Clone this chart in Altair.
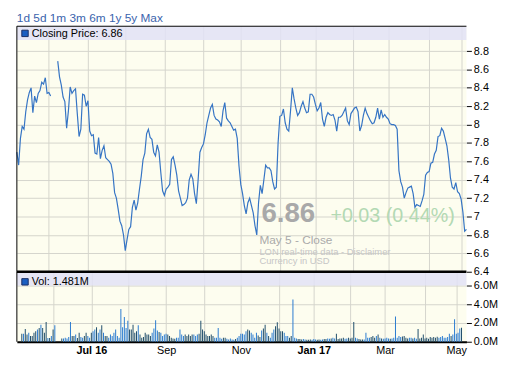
import altair as alt
import pandas as pd
import numpy as np

FONT = "Liberation Sans"

range_buttons = ["1d 5d 1m 3m 6m 1y 5y Max"]
price_title = ["Closing Price: 6.86"]
volume_title = ["Vol: 1.481M"]
last_price = ["6.86"]
change_text = ["+0.03 (0.44%)"]
close_note = ["May 5 - Close"]
source_note = ["LON real-time data - Disclaimer"]
currency_note = ["Currency in USD"]

uk_holidays = ["2016-05-30", "2016-08-29", "2016-12-26", "2016-12-27",
               "2017-01-02", "2017-04-14", "2017-04-17", "2017-05-01"]

close = [
    7.70, 7.56, 7.85, 7.98, 7.95, 8.14, 8.27, 8.35, 8.40, 8.13,
    8.31, 8.24, 8.34, 8.37, 8.46, 8.44, 8.51, 8.34, 8.35, 8.31,
    None, None, None, 8.69, 8.52, 8.43, 8.30, 8.25, 7.96, 8.15,
    8.41, 8.34, 8.37, 8.39, 8.12, 7.87, 7.95, 8.33, 8.32, 8.20,
    8.26, 7.93, 7.88, 7.89, 7.69, 7.68, 7.86, 7.63, 7.72, 7.77,
    7.64, 7.62, 7.60, 7.57, 7.47, 7.26, 7.20, 7.08, 6.95, 6.90,
    6.80, 6.63, 6.75, 6.86, 6.89, 7.10, 7.18, 7.07, 7.15, 7.30,
    7.44, 7.62, 7.69, 7.90, 7.95, 7.86, 7.84, 7.70, 7.66, 7.78,
    7.70, 7.48, 7.28, 7.23, 7.30, 7.32, 7.35, 7.62, 7.65, 7.56,
    7.45, 7.28, 7.20, 7.12, 7.13, 7.15, 7.20, 7.40, 7.46, 7.41,
    7.25, 7.14, 7.40, 7.70, 7.75, 7.79, 7.89, 8.02, 8.10, 8.18,
    8.22, 8.10, 8.06, 8.05, 8.03, 7.98, 8.15, 8.24, 8.07, 8.04,
    8.02, 7.98, 7.94, 7.95, 7.85, 7.55, 7.35, 7.25, 7.12, 7.03,
    7.15, 7.20, 7.12, 7.04, 6.90, 6.80, 7.15, 7.34, 7.25, 7.40,
    7.56, 7.53, 7.53, 7.50, 7.38, 7.30, 7.32, 7.80, 8.09, 8.10,
    8.17, 8.02, 7.95, 7.93, 8.15, 8.40, 8.28, 8.18, 8.10, 8.13,
    8.20, 8.25, 8.18, 8.13, 8.14, 8.33, 8.33, 8.30, 8.22, 8.15,
    8.18, 8.24, 8.06, 7.98, 8.08, 8.13, 8.11, 8.10, 8.11, 8.05,
    7.93, 8.08, 8.08, 8.10, 8.14, 8.18, 8.04, 8.00, 8.12, 8.15,
    8.18, 8.19, 8.14, 7.93, 7.99, 8.10, 8.18, 8.12, 8.08, 8.04,
    8.01, 8.02, 8.08, 8.18, 8.06, 8.16, 8.08, 8.11, 8.08, 8.06,
    8.01, 8.00, 8.00, 7.99, 7.95, 7.50, 7.38, 7.32, 7.20, 7.26,
    7.31, 7.32, 7.33, 7.25, 7.10, 7.13, 7.12, 7.11, 7.17, 7.24,
    7.45, 7.48, 7.49, 7.58, 7.59, 7.68, 7.72, 7.87, 7.88, 7.96,
    7.93, 7.85, 7.77, 7.62, 7.42, 7.32, 7.30, 7.37, 7.27, 7.25,
    7.19, 7.05, 6.84, 6.86,
]

volume_m = [
    0.84, 0.84, 1.37, 0.77, 0.95, 0.60, 0.60, 0.95, 1.12, 1.30,
    1.47, 1.82, 1.47, 0.95, 2.10, 0.40, 0.40, 0.60, 1.30, 1.75,
    None, None, None, 0.35, 0.35, 0.42, 0.35, 0.50, 2.10, 0.60,
    0.60, 0.77, 0.40, 0.95, 0.50, 0.42, 0.60, 0.95, 0.60, 0.42,
    0.95, 1.12, 1.30, 1.54, 0.95, 1.30, 1.75, 0.95, 0.60, 0.60,
    0.42, 0.77, 0.60, 0.95, 1.30, 0.60, 0.42, 3.50, 1.54, 2.63,
    1.47, 2.25, 1.30, 1.30, 1.82, 0.95, 1.12, 1.75, 0.77, 0.42,
    0.50, 0.95, 0.77, 0.77, 0.60, 0.95, 1.40, 2.28, 1.20, 1.05,
    0.95, 0.60, 0.77, 0.84, 0.77, 0.60, 0.42, 0.35, 0.32, 0.42,
    0.42, 1.30, 0.77, 0.60, 0.77, 0.60, 0.77, 0.60, 0.77, 0.77,
    0.60, 0.77, 0.84, 2.25, 1.30, 1.12, 0.77, 0.60, 0.60, 0.77,
    0.60, 0.42, 0.42, 1.47, 0.42, 0.32, 0.42, 0.42, 0.32, 0.25,
    0.35, 0.25, 0.20, 0.30, 0.42, 0.60, 0.84, 0.84, 0.77, 1.12,
    1.30, 1.20, 0.95, 0.77, 0.42, 0.95, 0.67, 0.50, 1.20, 1.40,
    1.82, 0.95, 0.60, 0.42, 0.95, 1.30, 1.65, 2.07, 1.40, 1.12,
    1.12, 0.95, 0.60, 0.60, 0.42, 0.60, 4.50, 0.42, 0.35, 0.30,
    0.28, 0.25, 0.28, 0.25, 0.20, 0.22, 0.25, 0.20, 0.28, 0.25,
    0.22, 0.25, 0.20, 0.25, 0.28, 0.30, 0.35, 0.32, 0.35, 0.42,
    0.35, 0.84, 0.30, 0.35, 0.35, 0.42, 0.32, 0.35, 0.42, 0.35,
    0.42, 2.10, 0.42, 0.35, 0.28, 0.25, 0.25, 0.25, 0.95, 0.42,
    0.42, 0.50, 0.60, 0.42, 0.60, 0.77, 0.42, 0.35, 0.32, 0.35,
    0.42, 0.35, 0.32, 0.35, 0.42, 2.70, 0.42, 0.60, 0.50, 0.56,
    0.60, 0.42, 0.35, 0.42, 0.42, 0.35, 0.42, 0.32, 1.37, 0.35,
    0.42, 0.77, 0.35, 0.42, 0.32, 0.50, 0.42, 0.50, 0.42, 0.53,
    0.42, 0.50, 0.60, 0.42, 0.42, 0.50, 0.84, 0.60, 0.77, 2.40,
    0.84, 0.95, 1.40, 1.481,
]

price_ticks = [6.4, 6.6, 6.8, 7.0, 7.2, 7.4, 7.6, 7.8, 8.0, 8.2, 8.4, 8.6, 8.8]
volume_ticks = [0, 2, 4, 6]

# ---- table built from the lists ----
all_days = pd.bdate_range("2016-05-05", "2017-05-05")
trading_days = [d for d in all_days if d.strftime("%Y-%m-%d") not in uk_holidays]
n = len(close)
dates = pd.to_datetime(trading_days[-n:])
df = pd.DataFrame({"day": np.arange(n), "date": dates,
                   "close": pd.array(close, dtype="Float64").astype(float),
                   "volume": pd.array(volume_m, dtype="Float64").astype(float)})
prev = df["close"].ffill().shift(1)
df["move"] = np.where(df["close"] < prev, "down", "up")
df["date"] = df["date"].dt.strftime("%Y-%m-%d")

d = pd.to_datetime(df["date"])
is_start = (d.dt.day <= 4) & (d.dt.month != d.shift(1).dt.month)
starts = df[is_start]
tick_days = [int(v) for v in starts["day"]]
parts = []
bold_days = []
for day, ds in zip(starts["day"], pd.to_datetime(starts["date"])):
    if ds.month % 2 == 1:
        if ds.month in (1, 7):
            lab = ds.strftime("%b %y")
            bold_days.append(int(day))
        else:
            lab = ds.strftime("%b")
        parts.append(f"datum.value == {int(day)} ? '{lab}'")
label_expr = " : ".join(parts) + " : ''"
bold_test = " || ".join(f"datum.value == {b}" for b in bold_days) or "false"

W = 456
H1 = 249
H2 = 71
GRID = "#d4d4cc"
BAND = "#e2e2f6"
LINE = "#3574c4"

x_scale = alt.Scale(domain=[0, n - 1], nice=False, zero=False)


def text_layer(txt, x, y, size, color, weight="normal"):
    return alt.Chart(pd.DataFrame({"t": txt})).mark_text(
        align="left", baseline="alphabetic", font=FONT, fontSize=size,
        color=color, fontWeight=weight
    ).encode(x=alt.value(x), y=alt.value(y), text="t:N")


def box(x, x2, y, y2, fill, **kw):
    return alt.Chart(pd.DataFrame({"k": [0]})).mark_rect(fill=fill, **kw).encode(
        x=alt.value(x), x2=alt.value(x2), y=alt.value(y), y2=alt.value(y2))


def rule(x, x2, y, y2, width):
    return alt.Chart(pd.DataFrame({"k": [0]})).mark_rule(color="black", strokeWidth=width).encode(
        x=alt.value(x), x2=alt.value(x2), y=alt.value(y), y2=alt.value(y2))


price_line = alt.Chart(df).mark_line(
    color=LINE, strokeWidth=1.2, invalid="break-paths-show-domains"
).encode(
    x=alt.X("day:Q", scale=x_scale,
            axis=alt.Axis(values=tick_days, grid=True, gridColor=GRID, labels=False,
                          ticks=False, domain=False, title=None)),
    y=alt.Y("close:Q", scale=alt.Scale(domain=[6.4, 9.07], nice=False, zero=False),
            axis=alt.Axis(orient="right", values=price_ticks, format=".1~f", title=None,
                          grid=True, gridColor=GRID, domain=False, tickColor="black",
                          tickSize=5, labelPadding=2)),
)

price = alt.layer(
    box(0, W, 0, 14, BAND, opacity=0.85),
    price_line,
    text_layer(last_price, 248, 199, 28, "#a9a9a9", "bold"),
    text_layer(change_text, 318, 199, 20, "#b3d9b3"),
    text_layer(close_note, 246, 221, 12, "#aaaaaa"),
    text_layer(source_note, 246, 232, 9.5, "#c6c6c6"),
    text_layer(currency_note, 246, 241.5, 9.5, "#c6c6c6"),
    box(5, 11.5, 4, 10.5, "#1b5fc2", stroke="#1a2f66", strokeWidth=1),
    text_layer(price_title, 15, 11, 11, "black"),
    text_layer(range_buttons, 0, -4, 12, "#3b64ad"),
    rule(0, W, 0, 0, 1),
    rule(0, 0, 0, H1, 1),
).properties(width=W, height=H1)

volume_bars = alt.Chart(df).mark_bar(size=1).encode(
    x=alt.X("day:Q", scale=x_scale,
            axis=alt.Axis(values=tick_days, grid=True, gridColor=GRID, labelExpr=label_expr,
                          labelFontWeight={"condition": {"test": bold_test, "value": "bold"},
                                           "value": "normal"},
                          ticks=False, tickSize=0, labelPadding=3, domainColor="black",
                          domainWidth=2, title=None, labelOverlap=False)),
    y=alt.Y("volume:Q", scale=alt.Scale(domain=[0, 7.47], nice=False, zero=True),
            axis=alt.Axis(orient="right", values=volume_ticks,
                          labelExpr="format(datum.value, '.1f') + 'M'", title=None,
                          grid=True, gridColor=GRID, domain=False, tickColor="black",
                          tickSize=5, labelPadding=2)),
    color=alt.Color("move:N", scale=alt.Scale(domain=["up", "down"],
                                              range=["#1f4d6b", "#2a7bd0"]), legend=None),
)

volume = alt.layer(
    box(0, W, 1, 14, BAND, opacity=0.85),
    volume_bars,
    box(5, 11.5, 7, 13.5, "#1b5fc2", stroke="#1a2f66", strokeWidth=1),
    text_layer(volume_title, 15, 13, 11, "black"),
    rule(0, W, 0, 0, 2.5),
    rule(0, 0, 0, H2, 1),
).properties(width=W, height=H2)

chart = alt.vconcat(price, volume, spacing=0, bounds="flush").resolve_scale(
    y="independent"
).properties(
    padding={"left": 6, "top": 2, "right": 0, "bottom": 0},
    background="white",
).configure_view(fill="#fdfdef", stroke=None).configure_axis(
    labelFont=FONT, labelFontSize=11, labelColor="black"
)

chart.save("out.html", embed_options={"renderer": "svg", "actions": False})
